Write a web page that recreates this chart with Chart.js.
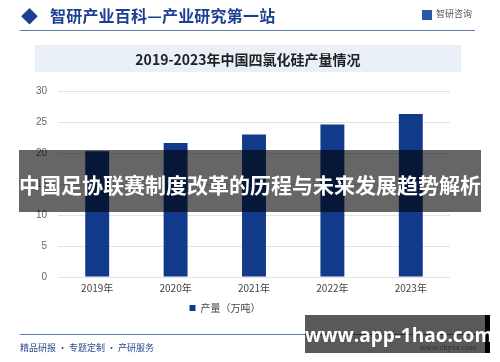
<!DOCTYPE html>
<html><head><meta charset="utf-8">
<script src="https://cdn.jsdelivr.net/npm/chart.js@4"></script>
<style>
html,body{margin:0;padding:0;background:#fff;}
#wrap{position:relative;width:500px;height:362px;overflow:hidden;font-family:"Noto Sans CJK SC","Noto Sans",sans-serif;}
canvas{position:absolute;left:0;top:0;}
.abs{position:absolute;white-space:nowrap;}
</style></head><body>
<div id="wrap">
  <div class="abs" style="left:35px;top:45px;width:426px;height:27px;background:#eaf0f8;"></div>
  <canvas id="c" width="500" height="362"></canvas>
  <div class="abs" style="left:21px;top:3px;font-size:17px;color:#1d3f91;">◆</div>
  <div class="abs" style="left:50px;top:3px;font-size:16px;font-weight:bold;color:#1d3f91;letter-spacing:0.2px;">智研产业百科—产业研究第一站</div>
  <div class="abs" style="left:422px;top:10px;width:10px;height:10px;background:#2a58a8;"></div>
  <div class="abs" style="left:436px;top:7px;font-size:9px;color:#555;">智研咨询</div>
  <div class="abs" style="left:20px;top:30px;width:455px;height:1px;background:#5b7aa8;"></div>
  <div class="abs" style="left:35px;top:49px;width:426px;text-align:center;font-size:14px;font-weight:bold;color:#222;">2019-2023年中国四氯化硅产量情况</div>
  <div class="abs" style="left:20px;top:334px;width:455px;height:1px;background:#5b7aa8;"></div>
  <div class="abs" style="left:20px;top:341px;font-size:9px;color:#2a4a8a;">精品研报 · 专题定制 · 产研服务</div>
  <div class="abs" style="left:420px;top:344px;font-size:7px;color:#888;font-family:'DejaVu Serif',serif;">www.chyxx.com</div>
  <div class="abs" style="left:19px;top:150px;width:462px;height:62px;background:rgba(0,0,0,0.6);"></div>
  <div class="abs" style="left:19px;top:169px;width:462px;text-align:center;font-size:21px;line-height:30px;font-weight:bold;color:#fff;">中国足协联赛制度改革的历程与未来发展趋势解析</div>
  <div class="abs" style="left:305px;top:315px;width:180px;height:38px;background:rgba(0,0,0,0.65);"></div>
  <div class="abs" style="left:485px;top:315px;width:5px;height:38px;background:#000;"></div>
  <div class="abs" style="left:305px;top:320px;width:180px;text-align:center;font-size:19px;line-height:30px;font-weight:bold;color:#fff;font-family:'Open Sans','DejaVu Sans',sans-serif;">www.app-1hao.com</div>
</div>
<script>
const categories = ["2019年","2020年","2021年","2022年","2023年"];
const seriesName = "产量（万吨）";
const production = [20.3, 21.6, 23.0, 24.6, 26.3];
const yTicks = [0,5,10,15,20,25,30];

new Chart(document.getElementById('c'), {
  type: 'bar',
  data: {
    labels: categories,
    datasets: [{
      label: seriesName,
      data: production,
      backgroundColor: '#113a8a',
      categoryPercentage: 1.0,
      barPercentage: 0.305
    }]
  },
  options: {
    responsive: false,
    animation: false,
    devicePixelRatio: 1,
    layout: { padding: { top: 91, bottom: 39, left: 0, right: 50 } },
    plugins: {
      legend: {
        position: 'bottom',
        labels: {
          usePointStyle: true, pointStyle: 'rect', boxWidth: 6, boxHeight: 6,
          color: '#444', font: { size: 10, family: '"Noto Sans CJK SC", sans-serif' }, padding: 4
        }
      },
      tooltip: { enabled: false }
    },
    scales: {
      x: {
        grid: { display: false, drawTicks: false },
        border: { display: false },
        ticks: { color: '#444', font: { size: 10, family: '"Noto Sans CJK SC", sans-serif' }, padding: 5 }
      },
      y: {
        min: 0, max: 30,
        afterBuildTicks: s => { s.ticks = yTicks.map(v => ({ value: v })); },
        afterFit: s => { s.width = 58; },
        grid: { color: '#e3e3e3', drawTicks: false },
        border: { display: false },
        ticks: { color: '#666', font: { size: 10, family: '"Liberation Sans", sans-serif' }, padding: 11 }
      }
    }
  }
});
</script>
</body></html>
